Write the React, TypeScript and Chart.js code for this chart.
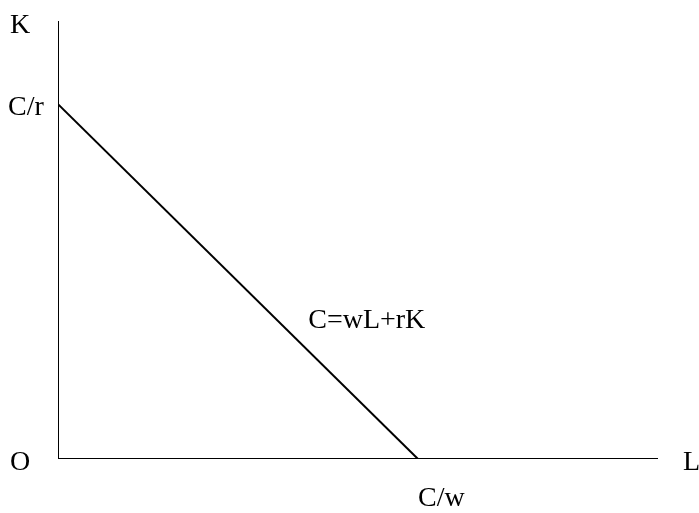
import React, { useEffect, useRef } from "react";
import { Chart, registerables } from "chart.js";

Chart.register(...registerables);

// Data (abstract units)
const budgetLine = [
  { x: 0, y: 81 }, // C/r intercept
  { x: 60, y: 0 }, // C/w intercept
];
const kAxis = [
  { x: 0, y: 0 },
  { x: 0, y: 100 },
];
const lAxis = [
  { x: 0, y: 0 },
  { x: 100, y: 0 },
];
const labelK = "K";
const labelL = "L";
const labelO = "O";
const labelCr = "C/r";
const labelCw = "C/w";
const labelEq = "C=wL+rK";

const FONT = '28px "Liberation Serif", "Times New Roman", serif';

const labelsPlugin = {
  id: "econLabels",
  afterDatasetsDraw(chart: any) {
    const ctx = chart.ctx;
    const xs = chart.scales.x;
    const ys = chart.scales.y;
    const x0 = xs.getPixelForValue(0);
    const y0 = ys.getPixelForValue(0);
    const yTop = ys.getPixelForValue(100);
    const xEnd = xs.getPixelForValue(100);
    const yCr = ys.getPixelForValue(budgetLine[0].y);
    const xCw = xs.getPixelForValue(budgetLine[1].x);
    ctx.save();
    // white label box for C/r partially covering the axis
    ctx.fillStyle = "#ffffff";
    ctx.fillRect(0, yCr - 20.5, x0, 58);
    ctx.fillStyle = "#000000";
    ctx.font = FONT;
    ctx.textAlign = "left";
    ctx.textBaseline = "alphabetic";
    ctx.fillText(labelK, x0 - 48, yTop + 12);
    ctx.fillText(labelCr, x0 - 50, yCr + 11);
    ctx.fillText(labelO, x0 - 48, y0 + 11);
    ctx.fillText(labelL, xEnd + 25, y0 + 11);
    ctx.fillText(labelCw, xCw, y0 + 47);
    // equation label near middle of budget line
    const xm = xs.getPixelForValue(41.7);
    const ym = ys.getPixelForValue(30);
    ctx.fillText(labelEq, xm, ym);
    ctx.restore();
  },
};

export default function App() {
  const ref = useRef<HTMLCanvasElement | null>(null);
  useEffect(() => {
    if (!ref.current) return;
    const chart = new Chart(ref.current, {
      type: "scatter",
      data: {
        datasets: [
          {
            data: kAxis,
            showLine: true,
            borderColor: "#000",
            borderWidth: 2,
            pointRadius: 0,
          },
          {
            data: lAxis,
            showLine: true,
            borderColor: "#000",
            borderWidth: 2,
            pointRadius: 0,
          },
          {
            data: budgetLine,
            showLine: true,
            borderColor: "#000",
            borderWidth: 2,
            pointRadius: 0,
          },
        ],
      },
      options: {
        responsive: false,
        animation: false,
        layout: { padding: { left: 58, right: 41, top: 21, bottom: 54 } },
        plugins: { legend: { display: false }, tooltip: { enabled: false } },
        scales: {
          x: { type: "linear", min: 0, max: 100, display: false },
          y: { type: "linear", min: 0, max: 100, display: false },
        },
      },
      plugins: [labelsPlugin],
    });
    return () => chart.destroy();
  }, []);
  return (
    <div
      style={{
        position: "fixed",
        left: 0,
        top: 0,
        width: 699,
        height: 513,
        background: "#fff",
      }}
    >
      <canvas ref={ref} width={699} height={513} />
    </div>
  );
}
